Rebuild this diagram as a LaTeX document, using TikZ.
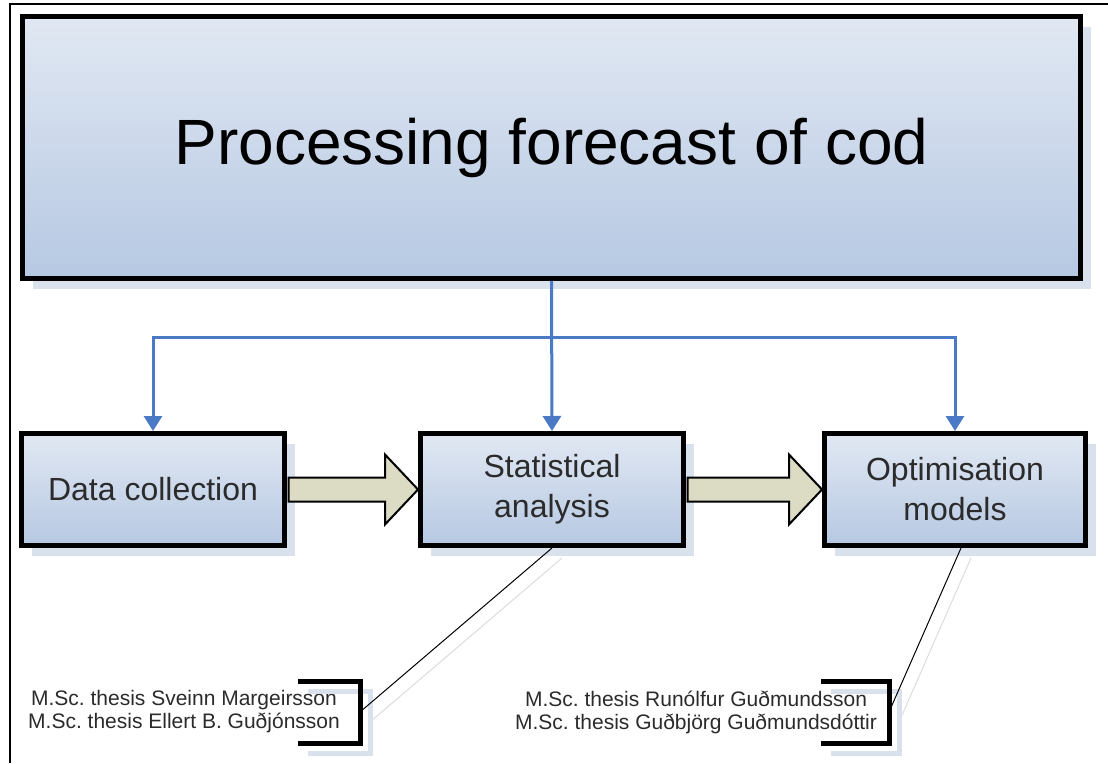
\documentclass[tikz,border=0pt]{standalone}
\usepackage{fontspec}
\setmainfont{Liberation Sans}
\frenchspacing
\usetikzlibrary{shadows,arrows.meta,calc}

\definecolor{boxtop}{HTML}{E1E8F3}
\definecolor{boxbottom}{HTML}{B6C8E2}
\definecolor{shadowblue}{HTML}{D9E1ED}
\definecolor{feedblue}{HTML}{4A79C6}
\definecolor{stepfill}{HTML}{DCDCC4}
\definecolor{textgray}{HTML}{2B2B2B}
\definecolor{leadershade}{HTML}{DCDCDC}

\tikzset{
  stage/.style={draw=black, line width=5pt, top color=boxtop, bottom color=boxbottom,
    drop shadow={shadow xshift=10pt, shadow yshift=-10pt, fill=shadowblue, opacity=1},
    minimum width=263pt, minimum height=112pt, align=center, text=textgray,
    font=\fontsize{32}{40}\selectfont},
  feed/.style={draw=feedblue, line width=3pt, -{Triangle[width=18pt,length=15pt]}},
  flowarrow/.style={draw=black, line width=2pt, fill=stepfill, line join=miter},
  thesis/.style={align=center, text=textgray, font=\fontsize{21}{23}\selectfont},
  thesisbracket/.style={line width=5pt},
  leader/.style={line width=1pt},
  behind/.style={transform canvas={xshift=10pt, yshift=-10pt}},
}

\begin{document}
\begin{tikzpicture}[x=1pt, y=-1pt]
\useasboundingbox (0,0) rectangle (1108,763);
\draw[line width=1.5pt] (10,763) -- (10,4) -- (1108,4);

% main box and the three stages
\node[stage, minimum width=1058pt, minimum height=262pt, text=black,
  font=\fontsize{64}{70}\selectfont] (forecast) at (551.5,147.5) {Processing forecast of cod};
\node[stage] (data) at (153,489.5) {Data collection};
\node[stage] (stat) at (552,489.5) {Statistical\\analysis};
\node[stage, minimum width=261pt] (optim) at (955,489.5) {Optimisation\\models};

% feeds from the forecast
\coordinate (split) at (552,337);
\draw[feed] (forecast.south) -- (stat.north);
\draw[feed] (split) -| (data.north);
\draw[feed] (split) -| (optim.north);

% block arrows between stages
\draw[flowarrow] let \p1=(data.east), \p2=(stat.west) in
  (\x1+1.5pt,\y1+12pt) -- (\x2-33pt,\y1+12pt) -- (\x2-33pt,\y1+35pt) -- (\x2,\y1)
  -- (\x2-33pt,\y1-35pt) -- (\x2-33pt,\y1-12pt) -- (\x1+1.5pt,\y1-12pt) -- cycle;
\draw[flowarrow] let \p1=(stat.east), \p2=(optim.west) in
  (\x1+1.5pt,\y1+12pt) -- (\x2-33pt,\y1+12pt) -- (\x2-33pt,\y1+35pt) -- (\x2,\y1)
  -- (\x2-33pt,\y1-35pt) -- (\x2-33pt,\y1-12pt) -- (\x1+1.5pt,\y1-12pt) -- cycle;

% theses
\node[thesis] (thesisA) at (184,712) {M.Sc. thesis Sveinn Margeirsson\\M.Sc. thesis Ellert B. Guðjónsson};
\node[thesis] (thesisB) at (696,712) {M.Sc. thesis Runólfur Guðmundsson\\M.Sc. thesis Guðbjörg Guðmundsdóttir};
\coordinate (bracketA) at (360,712);
\coordinate (bracketB) at (889,712);

\draw[leader, draw=leadershade, behind] (bracketA) -- (stat.south);
\draw[leader, draw=leadershade, behind] (bracketB) -- ([xshift=6pt]optim.south);
\draw[thesisbracket, draw=shadowblue, behind] ($(bracketA)+(-62,-31)$) -- ++(62,0) -- ++(0,62) -- ++(-62,0);
\draw[thesisbracket, draw=shadowblue, behind] ($(bracketB)+(-68,-31)$) -- ++(68,0) -- ++(0,62) -- ++(-68,0);

\draw[leader] (bracketA) -- (stat.south);
\draw[leader] (bracketB) -- ([xshift=6pt]optim.south);
\draw[thesisbracket] ($(bracketA)+(-62,-31)$) -- ++(62,0) -- ++(0,62) -- ++(-62,0);
\draw[thesisbracket] ($(bracketB)+(-68,-31)$) -- ++(68,0) -- ++(0,62) -- ++(-68,0);
\end{tikzpicture}
\end{document}
